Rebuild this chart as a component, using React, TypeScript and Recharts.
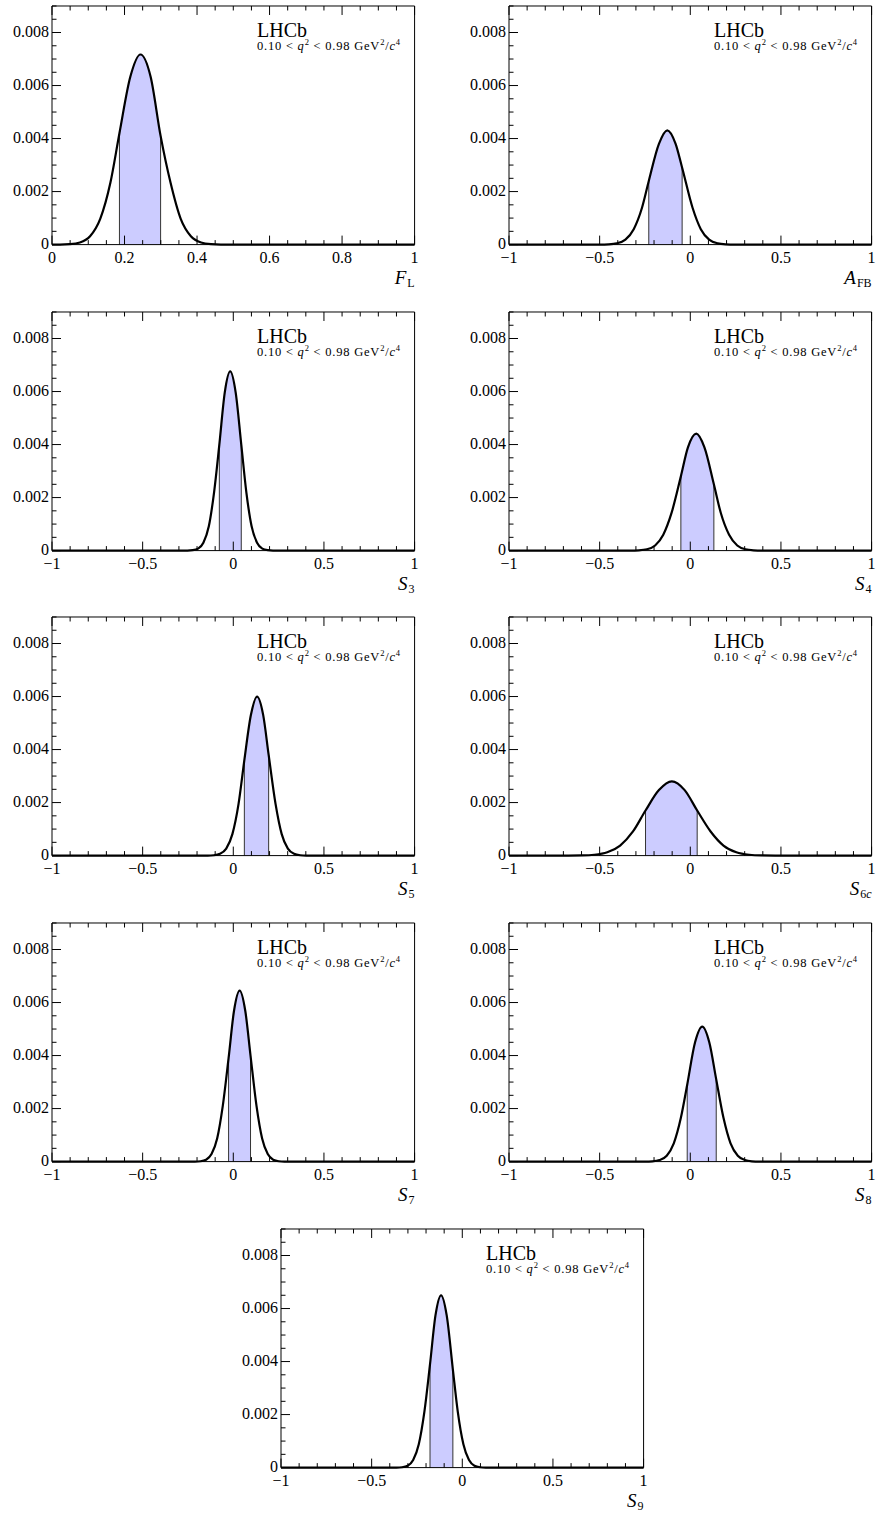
import React from "react";
import { ComposedChart, Line, Area, XAxis, YAxis, ReferenceLine } from "recharts";

// posterior densities: [value, density]
const FL_PDF = [[0, 0], [0.022, 0], [0.049, 0.000016], [0.077, 0.00008], [0.105, 0.000315], [0.133, 0.00097], [0.161, 0.00233], [0.186, 0.0042], [0.216, 0.00633], [0.244, 0.00717], [0.272, 0.00633], [0.2995, 0.0041], [0.327, 0.00233], [0.355, 0.00097], [0.383, 0.000315], [0.411, 0.00008], [0.439, 0.000016], [0.466, 0], [1, 0]];
const AFB_PDF = [[-1, 0], [-0.497, 0], [-0.451, 0.00001], [-0.405, 0.000048], [-0.358, 0.000189], [-0.312, 0.000583], [-0.266, 0.0014], [-0.229, 0.0024], [-0.173, 0.0038], [-0.127, 0.00431], [-0.081, 0.0038], [-0.045, 0.0029], [0.012, 0.0014], [0.058, 0.000583], [0.104, 0.000189], [0.151, 0.000048], [0.197, 0.00001], [0.243, 0], [1, 0]];
const S3_PDF = [[-1, 0], [-0.253, 0], [-0.224, 0.000015], [-0.194, 0.000075], [-0.165, 0.000297], [-0.135, 0.000915], [-0.106, 0.0022], [-0.077, 0.004], [-0.047, 0.00597], [-0.017, 0.00676], [0.013, 0.00597], [0.044, 0.004], [0.072, 0.0022], [0.101, 0.000915], [0.131, 0.000297], [0.16, 0.000075], [0.19, 0.000015], [0.219, 0], [1, 0]];
const S4_PDF = [[-1, 0], [-0.33, 0], [-0.284, 0.00001], [-0.239, 0.000049], [-0.194, 0.000194], [-0.149, 0.0006], [-0.103, 0.00143], [-0.052, 0.0028], [-0.013, 0.00389], [0.033, 0.00441], [0.078, 0.00389], [0.13, 0.0025], [0.168, 0.00143], [0.214, 0.0006], [0.259, 0.000194], [0.304, 0.000049], [0.349, 0.00001], [0.395, 0], [1, 0]];
const S5_PDF = [[-1, 0], [-0.141, 0], [-0.107, 0.000013], [-0.073, 0.000067], [-0.039, 0.000263], [-0.005, 0.00081], [0.029, 0.00195], [0.061, 0.0036], [0.097, 0.0053], [0.131, 0.006], [0.165, 0.0053], [0.195, 0.0038], [0.233, 0.00195], [0.267, 0.00081], [0.301, 0.000263], [0.335, 0.000067], [0.369, 0.000013], [0.403, 0], [1, 0]];
const S6C_PDF = [[-1, 0], [-0.672, 0], [-0.601, 0.000006], [-0.53, 0.000031], [-0.458, 0.000123], [-0.387, 0.00038], [-0.316, 0.00091], [-0.247, 0.0017], [-0.173, 0.00247], [-0.102, 0.0028], [-0.031, 0.00247], [0.038, 0.0017], [0.112, 0.00091], [0.183, 0.00038], [0.254, 0.000123], [0.326, 0.000031], [0.397, 0.000006], [0.468, 0], [1, 0]];
const S7_PDF = [[-1, 0], [-0.212, 0], [-0.181, 0.000014], [-0.15, 0.000072], [-0.12, 0.000283], [-0.089, 0.00087], [-0.058, 0.0021], [-0.026, 0.0039], [0.004, 0.00569], [0.035, 0.00645], [0.066, 0.00569], [0.095, 0.004], [0.128, 0.0021], [0.159, 0.00087], [0.19, 0.000283], [0.22, 0.000072], [0.251, 0.000014], [0.282, 0], [1, 0]];
const S8_PDF = [[-1, 0], [-0.248, 0], [-0.209, 0.000011], [-0.17, 0.000057], [-0.13, 0.000223], [-0.091, 0.00069], [-0.052, 0.00165], [-0.017, 0.0029], [0.026, 0.00449], [0.066, 0.00509], [0.105, 0.00449], [0.143, 0.0031], [0.183, 0.00165], [0.222, 0.00069], [0.262, 0.000223], [0.301, 0.000057], [0.34, 0.000011], [0.379, 0], [1, 0]];
const S9_PDF = [[-1, 0], [-0.363, 0], [-0.332, 0.000014], [-0.301, 0.000072], [-0.271, 0.000285], [-0.24, 0.00088], [-0.209, 0.00211], [-0.178, 0.0039], [-0.148, 0.00574], [-0.117, 0.0065], [-0.086, 0.00574], [-0.052, 0.0037], [-0.025, 0.00211], [0.006, 0.00088], [0.037, 0.000285], [0.067, 0.000072], [0.098, 0.000014], [0.129, 0], [1, 0]];

// 68% intervals (shaded)
const FL_BAND = [0.186, 0.2995];
const AFB_BAND = [-0.229, -0.045];
const S3_BAND = [-0.077, 0.044];
const S4_BAND = [-0.052, 0.13];
const S5_BAND = [0.061, 0.195];
const S6C_BAND = [-0.247, 0.038];
const S7_BAND = [-0.026, 0.095];
const S8_BAND = [-0.017, 0.143];
const S9_BAND = [-0.178, -0.052];

// ticks
const SYM_TICKS = Array.from({ length: 21 }, (_, i) => (i - 10) / 10);
const SYM_MAJOR = [-1, -0.5, 0, 0.5, 1];
const UNIT_TICKS = Array.from({ length: 21 }, (_, i) => i / 20);
const UNIT_MAJOR = [0, 0.2, 0.4, 0.6, 0.8, 1];
const Y_TICKS = Array.from({ length: 19 }, (_, i) => i * 0.0005);
const Y_MAJOR = [0, 0.002, 0.004, 0.006, 0.008];

const FONT = "'Liberation Serif', 'Times New Roman', Times, serif";
const PLOT_W = 362.6;
const PLOT_H = 238.6;
const ML = 50;
const MT = 10;
const MR = 8;
const XH = 51;
const ROW = 305.85;

const PANELS = [
  { pdf: FL_PDF, band: FL_BAND, unit: true, sym: "F", sub: "L", subItalic: "", left: 51.7, row: 0 },
  { pdf: AFB_PDF, band: AFB_BAND, unit: false, sym: "A", sub: "FB", subItalic: "", left: 509.3, row: 0 },
  { pdf: S3_PDF, band: S3_BAND, unit: false, sym: "S", sub: "3", subItalic: "", left: 51.7, row: 1 },
  { pdf: S4_PDF, band: S4_BAND, unit: false, sym: "S", sub: "4", subItalic: "", left: 509.3, row: 1 },
  { pdf: S5_PDF, band: S5_BAND, unit: false, sym: "S", sub: "5", subItalic: "", left: 51.7, row: 2 },
  { pdf: S6C_PDF, band: S6C_BAND, unit: false, sym: "S", sub: "6", subItalic: "c", left: 509.3, row: 2 },
  { pdf: S7_PDF, band: S7_BAND, unit: false, sym: "S", sub: "7", subItalic: "", left: 51.7, row: 3 },
  { pdf: S8_PDF, band: S8_BAND, unit: false, sym: "S", sub: "8", subItalic: "", left: 509.3, row: 3 },
  { pdf: S9_PDF, band: S9_BAND, unit: false, sym: "S", sub: "9", subItalic: "", left: 281, row: 4 },
];

const txt = { fontFamily: FONT, fill: "#000" };

const isMajor = (v: number, majors: number[]) => majors.some((m) => Math.abs(m - v) < 1e-9);
const fmtX = (v: number) => (Math.abs(v) < 1e-9 ? "0" : v < 0 ? "\u2212" + String(Math.abs(v)) : String(v));
const fmtY = (v: number) => (Math.abs(v) < 1e-12 ? "0" : v.toFixed(3));

const makeTick = (side: "bottom" | "top" | "left" | "right", majors: number[], fmt?: (v: number) => string) =>
  (props: any) => {
    const { x, y, payload } = props;
    const v = payload.value as number;
    const major = isMajor(v, majors);
    const len = major ? 9 : 4.5;
    let line;
    let label = null;
    if (side === "bottom") {
      line = <line x1={x} x2={x} y1={y} y2={y - len} stroke="#000" strokeWidth={1} />;
      if (major && fmt)
        label = (
          <text x={x} y={y + 18} textAnchor="middle" fontSize={16} style={txt}>
            {fmt(v)}
          </text>
        );
    } else if (side === "top") {
      line = <line x1={x} x2={x} y1={y} y2={y + len} stroke="#000" strokeWidth={1} />;
    } else if (side === "left") {
      line = <line x1={x} x2={x + len} y1={y} y2={y} stroke="#000" strokeWidth={1} />;
      if (major && fmt)
        label = (
          <text x={x - 3} y={y + 4.5} textAnchor="end" fontSize={16} style={txt}>
            {fmt(v)}
          </text>
        );
    } else {
      line = <line x1={x} x2={x - len} y1={y} y2={y} stroke="#000" strokeWidth={1} />;
    }
    return (
      <g>
        {line}
        {label}
      </g>
    );
  };

function Panel({ p }: { p: (typeof PANELS)[number] }) {
  const [lo, hi] = p.band;
  const rows = p.pdf.map(([x, y]) => ({ x, y, band: x >= lo - 1e-9 && x <= hi + 1e-9 ? y : null }));
  const hAt = (v: number) => (p.pdf.find(([x]) => Math.abs(x - v) < 1e-9) || [v, 0])[1];
  const xTicks = p.unit ? UNIT_TICKS : SYM_TICKS;
  const xMajor = p.unit ? UNIT_MAJOR : SYM_MAJOR;
  const domain: [number, number] = p.unit ? [0, 1] : [-1, 1];
  const W = ML + PLOT_W + MR;
  const H = MT + PLOT_H + XH;
  const top = 5.7 + p.row * ROW;
  const px = ML + PLOT_W;
  return (
    <div style={{ position: "absolute", left: p.left - ML, top: top - MT, width: W, height: H }}>
      <ComposedChart width={W} height={H} data={rows} margin={{ top: MT - 1, right: MR - 1, left: 0, bottom: 0 }}>
        <XAxis
          xAxisId="b"
          dataKey="x"
          type="number"
          domain={domain}
          ticks={xTicks}
          interval={0}
          height={XH}
          tickSize={0}
          tickMargin={0}
          tickLine={false}
          axisLine={{ stroke: "#000", strokeWidth: 1 }}
          tick={makeTick("bottom", xMajor, fmtX)}
        />
        <XAxis
          xAxisId="t"
          dataKey="x"
          type="number"
          orientation="top"
          domain={domain}
          ticks={xTicks}
          interval={0}
          height={1}
          tickSize={0}
          tickMargin={0}
          tickLine={false}
          axisLine={{ stroke: "#000", strokeWidth: 1 }}
          tick={makeTick("top", xMajor)}
        />
        <YAxis
          yAxisId="l"
          type="number"
          domain={[0, 0.009]}
          ticks={Y_TICKS}
          interval={0}
          width={ML}
          tickSize={0}
          tickMargin={0}
          tickLine={false}
          axisLine={{ stroke: "#000", strokeWidth: 1 }}
          tick={makeTick("left", Y_MAJOR, fmtY)}
        />
        <YAxis
          yAxisId="r"
          type="number"
          orientation="right"
          domain={[0, 0.009]}
          ticks={Y_TICKS}
          interval={0}
          width={1}
          tickSize={0}
          tickMargin={0}
          tickLine={false}
          axisLine={{ stroke: "#000", strokeWidth: 1 }}
          tick={makeTick("right", Y_MAJOR)}
        />
        <Area
          xAxisId="b"
          yAxisId="l"
          type="monotone"
          dataKey="band"
          stroke="none"
          fill="#ccccff"
          fillOpacity={1}
          isAnimationActive={false}
        />
        <ReferenceLine
          xAxisId="b"
          yAxisId="l"
          segment={[{ x: lo, y: 0 }, { x: lo, y: hAt(lo) }]}
          stroke="#333"
          strokeWidth={1}
        />
        <ReferenceLine
          xAxisId="b"
          yAxisId="l"
          segment={[{ x: hi, y: 0 }, { x: hi, y: hAt(hi) }]}
          stroke="#333"
          strokeWidth={1}
        />
        <Line
          xAxisId="b"
          yAxisId="l"
          type="monotone"
          dataKey="y"
          stroke="#000"
          strokeWidth={2.2}
          dot={false}
          isAnimationActive={false}
        />
      </ComposedChart>
      <svg
        width={W}
        height={H}
        style={{ position: "absolute", left: 0, top: 0, overflow: "visible", pointerEvents: "none" }}
      >
        <text x={ML + 205} y={MT + 31} fontSize={20} style={txt}>
          LHCb
        </text>
        <text x={ML + 205} y={MT + 44} fontSize={12.5} style={txt} textLength={143} lengthAdjust="spacing">
          0.10 &lt; <tspan fontStyle="italic">q</tspan>
          <tspan fontSize={8.5} dy={-5}>2</tspan>
          <tspan dy={5}> &lt; 0.98 GeV</tspan>
          <tspan fontSize={8.5} dy={-5}>2</tspan>
          <tspan dy={5}>/</tspan>
          <tspan fontStyle="italic">c</tspan>
          <tspan fontSize={8.5} dy={-5}>4</tspan>
        </text>
        <text x={px} y={MT + PLOT_H + 39} textAnchor="end" fontSize={19} style={txt}>
          <tspan fontStyle="italic">{p.sym}</tspan>
          <tspan fontSize={12} dy={3.5} dx={1}>{p.sub}</tspan>
          {p.subItalic && <tspan fontSize={12} fontStyle="italic">{p.subItalic}</tspan>}
        </text>
      </svg>
    </div>
  );
}

export default function App() {
  return (
    <div
      style={{
        position: "absolute",
        left: 0,
        top: 0,
        width: 877,
        height: 1514,
        overflow: "hidden",
        background: "#fff",
      }}
    >
      {PANELS.map((p, i) => (
        <Panel key={i} p={p} />
      ))}
    </div>
  );
}
